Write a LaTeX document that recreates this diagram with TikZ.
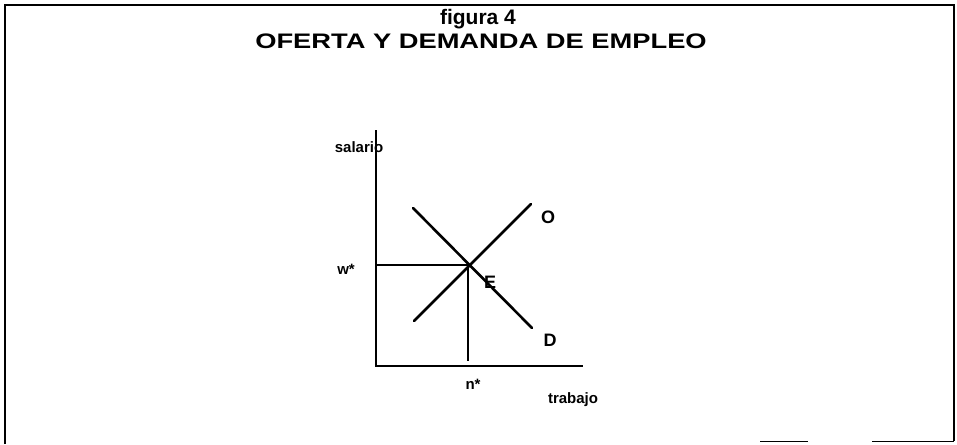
\documentclass[tikz,border=0pt]{standalone}
\usepackage{fontspec}
\usepackage{graphicx}
\setmainfont{Liberation Sans}
\begin{document}
\begin{tikzpicture}[x=1pt,y=-1pt,
  ttl/.style={font=\fontsize{21}{24}\selectfont\bfseries, inner sep=0pt},
  axlbl/.style={font=\fontsize{15}{17}\selectfont\bfseries, inner sep=0pt},
  crvlbl/.style={font=\fontsize{18}{20}\selectfont\bfseries, inner sep=0pt},
  axis/.style={line width=2.6pt},
  curve/.style={line width=2.6pt, line cap=round},
  guide/.style={line width=1.4pt},
  frame/.style={line width=2.4pt}]
\useasboundingbox (0,0) rectangle (957,444);
% frame
\coordinate (fTL) at (5,5);
\coordinate (fTR) at (954,5);
\coordinate (fBL) at (5,444);
\coordinate (fBR) at (954,441);
\draw[frame] (fBL) -- (fTL) -- (fTR) -- (fBR);
\coordinate (b1) at (760,441); \coordinate (b2) at (808,441);
\coordinate (b3) at (872,441);
\draw[line width=1pt] (b1) -- (b2);
\draw[line width=1pt] (b3) -- (fBR);
% titles
\node[ttl] (t1) at (478,19) {figura 4};
\node[ttl] (t2) at (481,41) {\scalebox{1.3}[1]{OFERTA Y DEMANDA DE EMPLEO}};
% axes
\coordinate (org) at (376,366);
\coordinate (ytop) at (376,130);
\coordinate (xend) at (583,366);
% label under the axis
\node[axlbl] (sal) at (359,147) {salario};
\draw[axis] (ytop) -- (org) -- (xend);
% curves
\coordinate (E) at (468,265);
\coordinate (d1) at (413,208); \coordinate (d2) at (532,328);
\coordinate (o1) at (414,321); \coordinate (o2) at (531,204);
\draw[curve] (d1) -- (d2);
\draw[curve] (o1) -- (o2);
% guides
\coordinate (wax) at (376,265);
\coordinate (nax) at (468,361);
\draw[guide] (wax) -- (E) -- (nax);
% labels
\node[axlbl] (trab) at (573,400) {trabajo};
\node[axlbl] (w) at (346,269) {w*};
\node[axlbl] (n) at (473,384) {n*};
\node[crvlbl] (lO) at (548,217) {O};
\node[crvlbl] (lD) at (550,340) {D};
\node[crvlbl] (lE) at (490,282) {E};
\end{tikzpicture}
\end{document}
